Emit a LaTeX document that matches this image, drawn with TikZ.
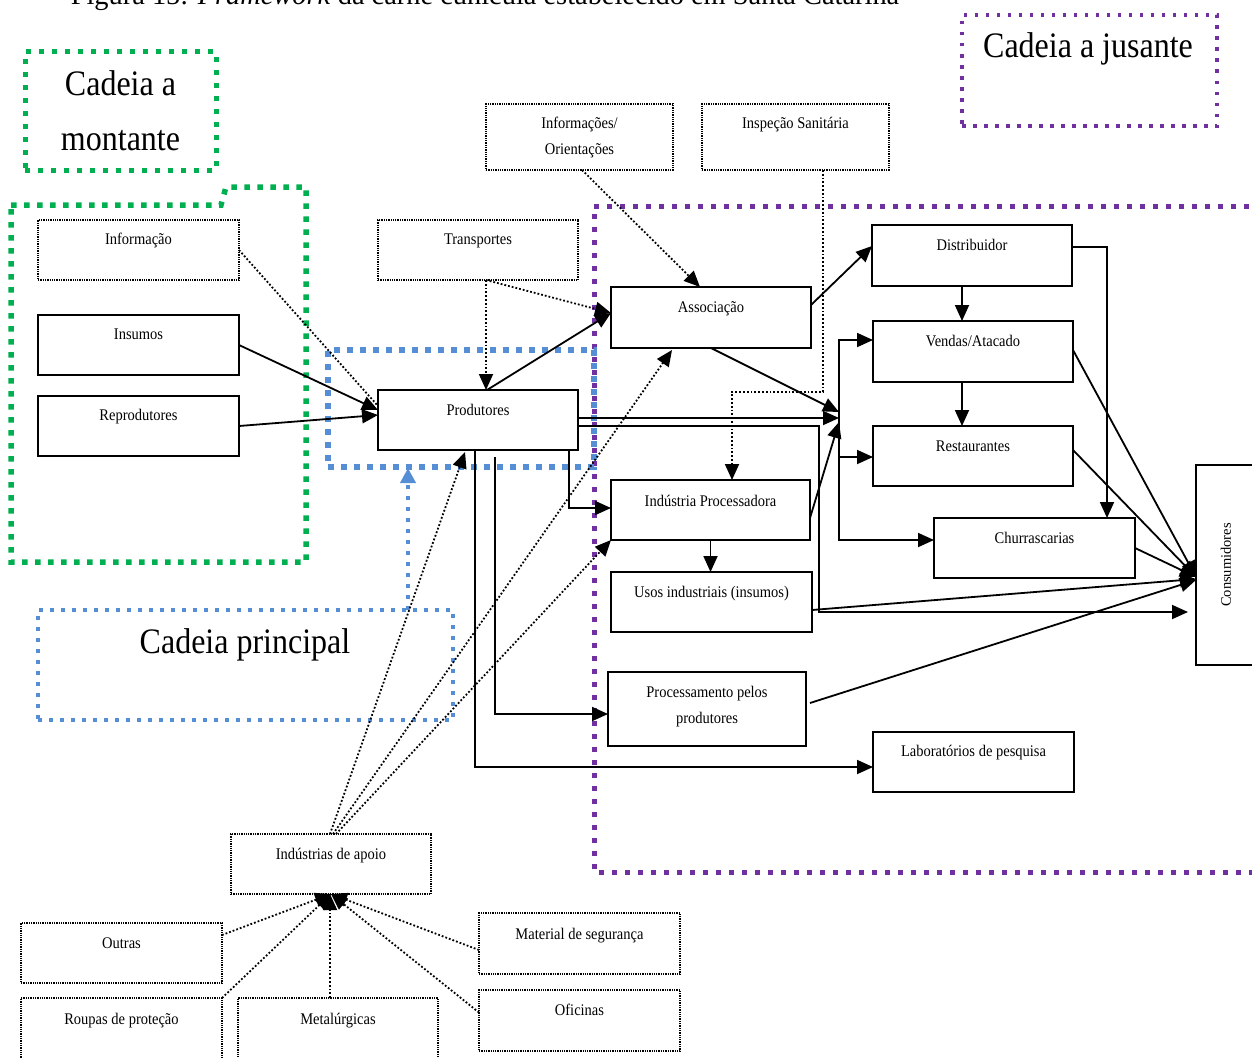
\documentclass[tikz,border=0pt]{standalone}
\usepackage{fontspec}
\setmainfont{Liberation Serif}
\usepackage{graphicx}
\usetikzlibrary{arrows.meta,calc}
\definecolor{gr}{HTML}{00B050}
\definecolor{bl}{HTML}{558ED5}
\definecolor{pu}{HTML}{7030A0}
\newcommand\vs[1]{\scalebox{1}[1.12]{#1}}
\newcommand\bx[7]{\node[#1, minimum width={#5-#3}, minimum height={#6-#4}] (#2) at ({(#3+#5)/2},{(#4+#6)/2}) {};}
\begin{document}
\begin{tikzpicture}[x=1pt,y=-1pt,
 solidbox/.style={draw, line width=1.5pt, inner sep=0, outer sep=0},
 dotbox/.style={draw, line width=1.3pt, densely dotted, inner sep=0, outer sep=0},
 lbl/.style={font=\fontsize{14.5}{16}\selectfont, inner sep=0, anchor=base},
 big/.style={font=\fontsize{32}{36}\selectfont, inner sep=0, anchor=base},
 arr/.style={line width=1.8pt, -{Triangle[length=16pt,width=14pt]}},
 darr/.style={line width=1.8pt, dotted, -{Triangle[length=16pt,width=14pt]}},
 dln/.style={line width=1.8pt, dotted},
 greg/.style={draw=gr, line width=5.5pt, dash pattern=on 5.5pt off 7.5pt},
 glab/.style={draw=gr, line width=5pt, dash pattern=on 5pt off 8pt, inner sep=0, outer sep=0},
 preg/.style={draw=pu, line width=5pt, dash pattern=on 5pt off 8pt},
 plab/.style={draw=pu, line width=3.5pt, dash pattern=on 3.5pt off 7.5pt, inner sep=0, outer sep=0},
 breg/.style={draw=bl, line width=5.5pt, dash pattern=on 6pt off 7pt, inner sep=0, outer sep=0},
 blab/.style={draw=bl, line width=4pt, dash pattern=on 4pt off 7pt, inner sep=0, outer sep=0},
 blarr/.style={draw=bl, line width=4pt, dash pattern=on 4pt off 7pt, -{Triangle[length=15pt,width=15pt]}}
]
\useasboundingbox (0,0) rectangle (1252,1057);

% title (cut at top, as in the reference)
\node[anchor=base, inner sep=0, font=\fontsize{28.4}{30}\selectfont] (title) at (485,5) {Figura 15: \textit{Framework} da carne cunícula estabelecido em Santa Catarina};

% regions
\draw[greg] (11,205) -- (221,205) -- (226,187) -- (306,187) -- (306,562) -- (11,562) -- cycle;
\draw[preg] (1262,206) -- (594,206) -- (594,872) -- (1262,872);
\bx{breg}{cpreg}{328}{350}{594}{467}{}

% region label boxes
\bx{glab}{gbox}{25}{52}{216}{170}{}
\node[big] at (120.5,95) {\vs{Cadeia a}};
\node[big] at (120.5,150) {\vs{montante}};
\bx{plab}{pbox}{962}{15}{1217}{126}{}
\node[big] at (1088,57) {\vs{Cadeia a jusante}};
\bx{blab}{cpbox}{38}{610}{453}{720}{}
\node[big] at (245,653) {\vs{Cadeia principal}};

% boxes
\bx{dotbox}{info}{38}{220}{239}{280}{}
\bx{solidbox}{insumos}{38}{315}{239}{375}{}
\bx{solidbox}{repro}{38}{396}{239}{456}{}
\bx{dotbox}{transp}{378}{220}{578}{280}{}
\bx{dotbox}{infor}{486}{104}{673}{170}{}
\bx{dotbox}{insp}{702}{104}{889}{170}{}
\bx{solidbox}{prod}{378}{390}{578}{450}{}
\bx{solidbox}{assoc}{611}{287}{811}{348}{}
\bx{solidbox}{distr}{872}{225}{1072}{286}{}
\bx{solidbox}{vendas}{873}{321}{1073}{382}{}
\bx{solidbox}{rest}{873}{426}{1073}{486}{}
\bx{solidbox}{churr}{934}{518}{1135}{578}{}
\bx{solidbox}{cons}{1196}{465}{1262}{665}{}
\bx{solidbox}{indproc}{611}{480}{810}{540}{}
\bx{solidbox}{usos}{611}{572}{812}{632}{}
\bx{solidbox}{procprod}{608}{672}{806}{746}{}
\bx{solidbox}{lab}{873}{732}{1074}{792}{}
\bx{dotbox}{apoio}{231}{834}{431}{894}{}
\bx{dotbox}{outras}{21}{923}{222}{983}{}
\bx{dotbox}{roupas}{21}{998}{222}{1062}{}
\bx{dotbox}{metal}{238}{998}{438}{1062}{}
\bx{dotbox}{matseg}{479}{913}{680}{974}{}
\bx{dotbox}{ofic}{479}{990}{680}{1051}{}

% labels
\node[lbl] at ([yshift=-24.5pt]info.north) {\vs{Informação}};
\node[lbl] at ([yshift=-24pt]insumos.north) {\vs{Insumos}};
\node[lbl] at ([yshift=-24pt]repro.north) {\vs{Reprodutores}};
\node[lbl] at ([yshift=-24pt]transp.north) {\vs{Transportes}};
\node[lbl] at ([yshift=-24pt]infor.north) {\vs{Informações/}};
\node[lbl] at ([yshift=-50pt]infor.north) {\vs{Orientações}};
\node[lbl] at ([yshift=-24pt]insp.north) {\vs{Inspeção Sanitária}};
\node[lbl] at ([yshift=-25pt]prod.north) {\vs{Produtores}};
\node[lbl] at ([yshift=-25pt]assoc.north) {\vs{Associação}};
\node[lbl] at ([yshift=-25pt]distr.north) {\vs{Distribuidor}};
\node[lbl] at ([yshift=-25pt]vendas.north) {\vs{Vendas/Atacado}};
\node[lbl] at ([yshift=-25pt]rest.north) {\vs{Restaurantes}};
\node[lbl] at ([yshift=-25pt]churr.north) {\vs{Churrascarias}};
\node[lbl, anchor=center, rotate=90] at (1226,565) {Consumidores};
\node[lbl] at ([yshift=-26pt]indproc.north) {\vs{Indústria Processadora}};
\node[lbl] at ([yshift=-25pt]usos.north) {\vs{Usos industriais (insumos)}};
\node[lbl] at ([yshift=-25pt]procprod.north) {\vs{Processamento pelos}};
\node[lbl] at ([yshift=-51pt]procprod.north) {\vs{produtores}};
\node[lbl] at ([yshift=-24pt]lab.north) {\vs{Laboratórios de pesquisa}};
\node[lbl] at ([yshift=-25pt]apoio.north) {\vs{Indústrias de apoio}};
\node[lbl] at ([yshift=-25pt]outras.north) {\vs{Outras}};
\node[lbl] at ([yshift=-26pt]roupas.north) {\vs{Roupas de proteção}};
\node[lbl] at ([yshift=-26pt]metal.north) {\vs{Metalúrgicas}};
\node[lbl] at ([yshift=-26pt]matseg.north) {\vs{Material de segurança}};
\node[lbl] at ([yshift=-25pt]ofic.north) {\vs{Oficinas}};

% blue arrow
\draw[blarr] ([xshift=162.5pt]cpbox.north) -- ([xshift=-53pt,yshift=-1pt]cpreg.south);

% connectors: upstream
\draw[arr] (insumos.east) -- ([yshift=10pt]prod.west);
\draw[arr] (repro.east) -- ([yshift=5pt]prod.west);
\draw[dln] (info.east) -- ([yshift=14pt]prod.west);
\draw[darr] ([xshift=8pt]transp.south) -- ([xshift=8pt]prod.north);
\draw[darr] ([xshift=8pt]transp.south) -- ([yshift=4.5pt]assoc.west);
\draw[arr] ([xshift=9pt]prod.north) -- ([yshift=4.5pt]assoc.west);
\draw[darr] ([xshift=2.5pt]infor.south) -- ([xshift=-11pt]assoc.north);
\draw[darr] ([xshift=27.5pt]insp.south) -- ++(0,222) -| ([xshift=21.5pt]indproc.north);

% junction and bus
\coordinate (jn) at (839,418);
\coordinate (bt) at (839,340);
\coordinate (bm) at (839,457);
\coordinate (bb) at (839,540);
\draw[arr] ([yshift=12.5pt]assoc.east) -- ([yshift=9.5pt]distr.west);
\draw[arr] (assoc.south) -- ([yshift=6pt]jn);
\draw[arr] ([yshift=2pt]prod.east) -- (jn);
\draw[arr] ([yshift=-8pt]indproc.east) -- ([yshift=-4pt]jn);
\draw[arr] (bm) -- (bt) -- (bt -| vendas.west);
\draw[arr] (bm) -- (bb) -- (bb -| churr.west);
\draw[arr] (bm) -- (bm -| rest.west);
\draw[arr] ([xshift=-10pt]distr.south) -- ([xshift=-11pt]vendas.north);
\draw[arr] ([xshift=-11pt]vendas.south) -- ([xshift=-11pt]rest.north);
\draw[arr] ([yshift=8.5pt]distr.east) -| ([xshift=72.5pt]churr.north);

% to consumers
\coordinate (ct) at ([yshift=-12pt]cons.west);
\draw[arr] ([yshift=1.5pt]vendas.east) -- (ct);
\draw[arr] ([yshift=6pt]rest.east) -- (ct);
\draw[arr] (churr.east) -- (ct);
\draw[arr] ([yshift=-8pt]usos.east) -- ([yshift=-2pt]ct);
\draw[arr] ([xshift=4pt,yshift=6pt]procprod.east) -- ([yshift=-3pt]ct);
\draw[arr] ([yshift=-6pt]prod.east) -- ++(241,0) |- ([xshift=-8pt,yshift=-47pt]cons.west);

% from producers down
\draw[arr] (indproc.south) -- (indproc.south |- usos.north);
\draw[arr] ([xshift=91pt]prod.south) |- ([yshift=2pt]indproc.west);
\draw[arr] ([xshift=17pt,yshift=-7pt]prod.south) |- ([yshift=-5pt]procprod.west);
\draw[arr] ([xshift=-3pt]prod.south) |- ([yshift=-5pt]lab.west);

% support industries
\draw[darr] ([xshift=-1pt]apoio.north) -- ([xshift=-13pt,yshift=-2pt]prod.south);
\draw[darr] ([xshift=2pt]apoio.north) -- ([xshift=-39pt,yshift=-2pt]assoc.south);
\draw[darr] ([xshift=5pt]apoio.north) -- (indproc.south west);
\draw[darr] ([yshift=18pt]outras.east) -- (apoio.south);
\draw[darr] (roupas.north east) -- (apoio.south);
\draw[darr] ([xshift=-8pt]metal.north) -- ([xshift=-1pt]apoio.south);
\draw[darr] ([yshift=-6.5pt]matseg.west) -- (apoio.south);
\draw[darr] ([yshift=8pt]ofic.west) -- (apoio.south);
\end{tikzpicture}
\end{document}
